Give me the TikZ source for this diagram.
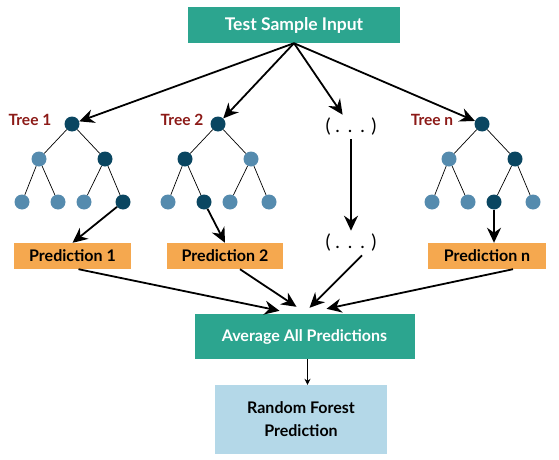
\documentclass[tikz,border=0pt]{standalone}
\usepackage{fontspec}
\setmainfont{Lato}
\usetikzlibrary{arrows.meta,calc}

\definecolor{boxteal}{HTML}{2CA58F}
\definecolor{boxorange}{HTML}{F5A84F}
\definecolor{boxblue}{HTML}{B4D8E8}
\definecolor{nodedark}{HTML}{0A4661}
\definecolor{nodelight}{HTML}{558BAE}
\definecolor{treered}{HTML}{8C1A17}

\begin{document}
\begin{tikzpicture}[x=1pt, y=-1pt]
	\tikzstyle{box}=[rectangle, inner sep=0pt, font=\fontsize{16}{23}\selectfont\bfseries];
	\tikzstyle{dark}=[circle, fill=nodedark, minimum size=15pt, inner sep=0pt];
	\tikzstyle{light}=[circle, fill=nodelight, minimum size=15pt, inner sep=0pt];
	\tikzstyle{big}=[-{Stealth[length=15pt, width=14pt]}, line width=1.8pt];
	\tikzstyle{twig}=[line width=0.7pt];
	\tikzstyle{treename}=[text=treered, font=\fontsize{15.5}{18}\selectfont\bfseries];
	\tikzstyle{dots}=[font=\fontsize{19}{20}\selectfont];

	\useasboundingbox (0, 0) rectangle (559, 460);

	\node[box, fill=boxteal, text=white, minimum width=212pt, minimum height=36pt, font=\fontsize{17.5}{20}\selectfont\bfseries] (input) at (294, 25) {Test Sample Input};

	% the trees
	\foreach \t/\x/\sa/\sb/\sc/\sd/\se/\sf in {1/72/light/dark/light/light/light/dark, 2/218/dark/light/light/dark/light/light, n/482/light/dark/light/light/dark/light} {
		\node[dark] (t\t) at (\x, 124) {};
		\node[\sa] (t\t-a) at (\x-33, 159) {};
		\node[\sb] (t\t-b) at (\x+33, 159) {};
		\node[\sc] (t\t-c) at (\x-50, 202) {};
		\node[\sd] (t\t-d) at (\x-14, 202) {};
		\node[\se] (t\t-e) at (\x+12, 202) {};
		\node[\sf] (t\t-f) at (\x+51, 202) {};
		\draw[twig] (t\t) -- (t\t-a);
		\draw[twig] (t\t) -- (t\t-b);
		\draw[twig] (t\t-a) -- (t\t-c);
		\draw[twig] (t\t-a) -- (t\t-d);
		\draw[twig] (t\t-b) -- (t\t-e);
		\draw[twig] (t\t-b) -- (t\t-f);
	}

	\node[treename] (name1) at (30, 120) {Tree 1};
	\node[treename] (name2) at (182, 120) {Tree 2};
	\node[treename] (namen) at (432, 120) {Tree n};

	\node[dots] (dots1) at (351, 127) {( .\ \,.\ \,. )};
	\node[dots] (dots2) at (351, 243) {( .\ \,.\ \,. )};

	\node[box, fill=boxorange, minimum width=117pt, minimum height=26pt] (pred1) at (72.5, 256) {Prediction 1};
	\node[box, fill=boxorange, minimum width=116pt, minimum height=26pt] (pred2) at (225, 256) {Prediction 2};
	\node[box, fill=boxorange, minimum width=118pt, minimum height=26pt] (predn) at (487, 256) {Prediction n};

	\node[box, fill=boxteal, text=white, minimum width=220pt, minimum height=45pt] (avg) at (304.5, 336.5) {Average All Predictions};
	\node[box, fill=boxblue, align=center, minimum width=172pt, minimum height=69pt] (rf) at (301, 419.5) {Random Forest\\Prediction};

	\coordinate (in1) at ($(avg.north)+(-25, -3)$);
	\coordinate (in2) at ($(avg.north)+(-8, -7)$);
	\coordinate (in3) at ($(avg.north)+(5, -6)$);
	\coordinate (in4) at ($(avg.north)+(22, -5)$);
	\coordinate (out) at ($(avg.south)+(3, 0)$);

	\draw[big] (input.south) -- (t1);
	\draw[big] (input.south) -- (t2);
	\draw[big] (input.south) -- (dots1);
	\draw[big] (input.south) -- (tn);

	\draw[big] (t1-f) -- (pred1.north);
	\draw[big] (t2-d) -- (pred2.north);
	\draw[big] (dots1) -- (dots2);
	\draw[big] (tn-e) -- (tn-e |- predn.north);

	\draw[big] ($(pred1.south)+(6, 0)$) -- (in1);
	\draw[big] ($(pred2.south)+(15, 0)$) -- (in2);
	\draw[big] ($(dots2.south)+(11, 0)$) -- (in3);
	\draw[big] ($(predn.south)+(26, 0)$) -- (in4);

	\draw[-{Stealth[length=6pt, width=6pt]}, line width=0.8pt] (out) -- (out |- rf.north);

\end{tikzpicture}
\end{document}
